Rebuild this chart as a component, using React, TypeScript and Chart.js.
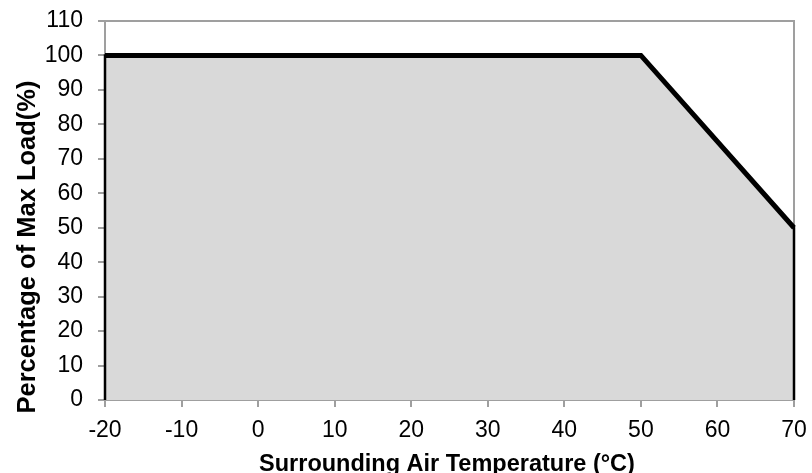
import { useEffect, useRef } from "react";
import { Chart, registerables } from "chart.js";

Chart.register(...registerables);

// ---- data ----
const xTickValues = [-20, -10, 0, 10, 20, 30, 40, 50, 60, 70];
const yTickValues = [0, 10, 20, 30, 40, 50, 60, 70, 80, 90, 100, 110];
const temperatureC = [-20, 50, 70];
const maxLoadPct = [100, 100, 50];
const xTitle = "Surrounding Air Temperature (°C)";
const yTitle = "Percentage of Max Load(%)";

const AXIS_GRAY = "#9f9f9f";
const FILL_GRAY = "#d9d9d9";

export default function App() {
  const ref = useRef<HTMLCanvasElement | null>(null);

  useEffect(() => {
    if (!ref.current) return;
    const curve = temperatureC.map((x, i) => ({ x, y: maxLoadPct[i] }));
    const xMin = temperatureC[0];
    const xMax = temperatureC[temperatureC.length - 1];
    const outline = [
      { x: xMin, y: 0 },
      ...curve,
      { x: xMax, y: 0 },
      { x: xMin, y: 0 },
    ];
    const fillPts = [...curve, { x: xMax, y: 0 }];

    const framePlugin = {
      id: "frame",
      beforeDatasetsDraw(chart: any) {
        const { ctx, chartArea: a } = chart;
        ctx.save();
        ctx.strokeStyle = AXIS_GRAY;
        ctx.lineWidth = 2;
        ctx.beginPath();
        ctx.moveTo(a.left, a.top);
        ctx.lineTo(a.right, a.top);
        ctx.lineTo(a.right, a.bottom);
        ctx.stroke();
        ctx.restore();
      },
      afterDraw(chart: any) {
        const { ctx } = chart;
        ctx.save();
        ctx.fillStyle = "#000";
        ctx.font = "bold 23.5px 'Liberation Sans', Arial, sans-serif";
        ctx.textAlign = "center";
        ctx.textBaseline = "alphabetic";
        ctx.fillText(xTitle, 447, 471);
        ctx.font = "bold 25.5px 'Liberation Sans', Arial, sans-serif";
        ctx.translate(35, 247);
        ctx.rotate(-Math.PI / 2);
        ctx.fillText(yTitle, 0, 0);
        ctx.restore();
      },
    };

    const tickFont = { family: "'Liberation Sans', Arial, sans-serif", size: 23 };

    const chart = new Chart(ref.current, {
      type: "line",
      data: {
        datasets: [
          {
            data: fillPts,
            borderWidth: 0,
            borderColor: "rgba(0,0,0,0)",
            backgroundColor: FILL_GRAY,
            fill: "origin",
            pointRadius: 0,
            tension: 0,
            order: 3,
          },
          {
            data: outline,
            borderWidth: 2.5,
            borderColor: "#000",
            fill: false,
            pointRadius: 0,
            tension: 0,
            clip: false,
            order: 2,
          } as any,
          {
            data: curve,
            borderWidth: 5,
            borderColor: "#000",
            borderJoinStyle: "miter",
            fill: false,
            pointRadius: 0,
            tension: 0,
            clip: false,
            order: 1,
          } as any,
        ],
      },
      options: {
        animation: false,
        responsive: false,
        parsing: false as any,
        layout: { padding: { top: 21, right: 18, left: 0, bottom: 0 } },
        plugins: { legend: { display: false }, tooltip: { enabled: false } },
        scales: {
          x: {
            type: "linear",
            min: xTickValues[0],
            max: xTickValues[xTickValues.length - 1],
            afterBuildTicks: (s: any) => {
              s.ticks = xTickValues.map((v) => ({ value: v }));
            },
            afterFit: (s: any) => {
              s.height = 73;
              s.paddingLeft = 0;
              s.paddingRight = 0;
            },
            ticks: { color: "#000", font: tickFont, padding: 10, maxRotation: 0 },
            grid: {
              drawOnChartArea: false,
              drawTicks: true,
              tickLength: 7,
              color: AXIS_GRAY,
              lineWidth: 2,
            },
            border: { color: AXIS_GRAY, width: 2 },
          },
          y: {
            type: "linear",
            min: yTickValues[0],
            max: yTickValues[yTickValues.length - 1],
            afterBuildTicks: (s: any) => {
              s.ticks = yTickValues.map((v) => ({ value: v }));
            },
            afterFit: (s: any) => {
              s.width = 105;
              s.paddingTop = 0;
              s.paddingBottom = 0;
            },
            ticks: { color: "#000", font: tickFont, padding: 15 },
            grid: {
              drawOnChartArea: false,
              drawTicks: true,
              tickLength: 7,
              color: AXIS_GRAY,
              lineWidth: 2,
            },
            border: { color: AXIS_GRAY, width: 2 },
          },
        },
      },
      plugins: [framePlugin],
    });
    return () => chart.destroy();
  }, []);

  return (
    <div style={{ position: "absolute", left: 0, top: 0, width: 812, height: 473, background: "#fff" }}>
      <canvas ref={ref} width={812} height={473} style={{ display: "block", width: 812, height: 473 }} />
    </div>
  );
}
